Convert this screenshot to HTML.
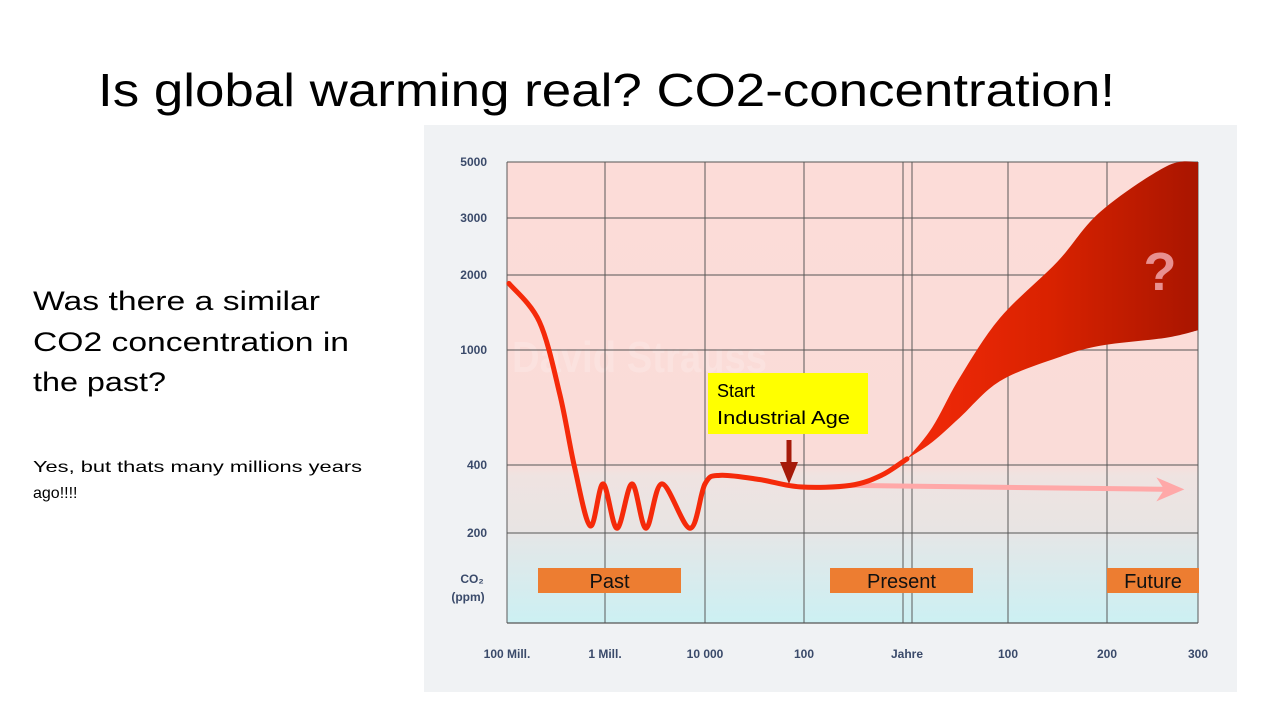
<!DOCTYPE html>
<html><head><meta charset="utf-8"><style>
html,body{margin:0;padding:0;background:#fff;}
svg{display:block;font-family:"Liberation Sans",sans-serif;}
</style></head><body>
<svg id="chart" width="1280" height="720" viewBox="0 0 1280 720" xmlns="http://www.w3.org/2000/svg">
<defs>
<linearGradient id="plotbg" x1="0" y1="162" x2="0" y2="623" gradientUnits="userSpaceOnUse">
<stop offset="0" stop-color="#fcdcd8"/>
<stop offset="0.65" stop-color="#fadcd8"/>
<stop offset="0.68" stop-color="#efe3e1"/>
<stop offset="0.80" stop-color="#e8e4e3"/>
<stop offset="0.82" stop-color="#e3e7e8"/>
<stop offset="1" stop-color="#ccf0f3"/>
</linearGradient>
<linearGradient id="band" x1="900" y1="0" x2="1200" y2="0" gradientUnits="userSpaceOnUse">
<stop offset="0" stop-color="#f42a0a"/>
<stop offset="0.5" stop-color="#d92200"/>
<stop offset="1" stop-color="#a81500"/>
</linearGradient>
</defs>
<text x="98" y="106" font-size="46" fill="#000" textLength="1017" lengthAdjust="spacingAndGlyphs">Is global warming real? CO2-concentration!</text>
<g font-size="27" fill="#000">
<text x="33" y="310" textLength="287" lengthAdjust="spacingAndGlyphs">Was there a similar</text>
<text x="33" y="351" textLength="316" lengthAdjust="spacingAndGlyphs">CO2 concentration in</text>
<text x="33" y="391" textLength="133" lengthAdjust="spacingAndGlyphs">the past?</text>
</g>
<g font-size="16" fill="#000">
<text x="33" y="472" textLength="329" lengthAdjust="spacingAndGlyphs">Yes, but thats many millions years</text>
<text x="33" y="498">ago!!!!</text>
</g>
<rect x="424" y="125" width="813" height="567" fill="#f0f2f4"/>
<rect x="507" y="162" width="691" height="461" fill="url(#plotbg)"/>
<text x="512" y="372" font-size="44" font-weight="bold" fill="#fff" fill-opacity="0.18" textLength="255" lengthAdjust="spacingAndGlyphs">David Strauss</text>
<g id="grid"></g>
<g id="series"></g>
<g id="labels"></g>
<g>
<rect x="708" y="373" width="160" height="61" fill="#ffff00"/>
<text x="717" y="397" font-size="18" fill="#000">Start</text>
<text x="717" y="424" font-size="18" fill="#000" textLength="133" lengthAdjust="spacingAndGlyphs">Industrial Age</text>
<line x1="789" y1="440" x2="789" y2="470" stroke="#a51a0a" stroke-width="5"/>
<polygon points="780,462 798,462 789,484" fill="#a51a0a"/>
</g>
<g font-size="20" fill="#111">
<rect x="538" y="568" width="143" height="25" fill="#ed7d31"/>
<text x="609.5" y="588" text-anchor="middle">Past</text>
<rect x="830" y="568" width="143" height="25" fill="#ed7d31"/>
<text x="901.5" y="588" text-anchor="middle">Present</text>
<rect x="1107" y="568" width="92" height="25" fill="#ed7d31"/>
<text x="1153" y="588" text-anchor="middle">Future</text>
</g>
</svg>
<script>
const yTicks = [5000, 3000, 2000, 1000, 400, 200];
const xTickLabels = ["100 Mill.", "1 Mill.", "10 000", "100", "Jahre", "100", "200", "300"];
const histX = [0.02,0.33,0.54,0.69,0.85,0.98,1.12,1.27,1.41,1.57,1.85,2.0,2.15,2.55,2.96,3.45,3.75,4.0];
const histPpm = [1850,1300,700,390,215,330,210,330,210,330,210,330,360,345,320,325,360,420];
const bandX = [4.0,4.25,4.52,4.92,5.5,5.93,6.65,7.0];
const bandUpper = [420,540,800,1344,2200,3170,4800,5000];
const bandLower = [420,480,582,780,940,1040,1120,1200];
const flatX = [3.45, 6.85];
const flatPpm = [325, 312];

const NS = "http://www.w3.org/2000/svg";
const yPix = [162, 218, 275, 350, 465, 533];
const xPix = [507, 605, 705, 804, 907, 1008, 1107, 1198];
function yScale(v){
  const lv = Math.log(v);
  for (let i=0;i<yTicks.length-1;i++){
    const a=Math.log(yTicks[i]), b=Math.log(yTicks[i+1]);
    if ((lv<=a && lv>=b) || i===yTicks.length-2){
      return yPix[i] + (a-lv)/(a-b)*(yPix[i+1]-yPix[i]);
    }
  }
}
function xScale(u){
  const i = Math.max(0, Math.min(xPix.length-2, Math.floor(u)));
  return xPix[i] + (u-i)*(xPix[i+1]-xPix[i]);
}
function mk(tag, attrs, parent){
  const e=document.createElementNS(NS, tag);
  for (const k in attrs) e.setAttribute(k, attrs[k]);
  parent.appendChild(e); return e;
}
function segs(pts){
  let d="";
  for (let i=0;i<pts.length-1;i++){
    const p0=pts[i-1]||pts[i], p1=pts[i], p2=pts[i+1], p3=pts[i+2]||p2;
    const c1x=p1[0]+(p2[0]-p0[0])/6, c1y=p1[1]+(p2[1]-p0[1])/6;
    const c2x=p2[0]-(p3[0]-p1[0])/6, c2y=p2[1]-(p3[1]-p1[1])/6;
    d+=" C"+c1x+","+c1y+" "+c2x+","+c2y+" "+p2[0]+","+p2[1];
  }
  return d;
}
function smooth(pts){ return "M"+pts[0][0]+","+pts[0][1]+segs(pts); }
const grid=document.getElementById('grid');
const labels=document.getElementById('labels');
const series=document.getElementById('series');
yTicks.forEach(v=>{
  const y=yScale(v);
  const l=mk('line',{x1:507,x2:1198,y1:y,y2:y,stroke:'#555',"stroke-width":1.2,"stroke-opacity":0.8},grid);
  
  
  const t=mk('text',{x:487,y:y+4,"text-anchor":"end","font-size":12,"font-weight":"bold",fill:"#3a4a6a"},labels);
  t.textContent=v;
  
  
});
xTickLabels.forEach((s,i)=>{
  const x=xScale(i);
  const xs = s==="Jahre" ? [903,912] : [x];
  xs.forEach(xx=>{
    const l=mk('line',{x1:xx,x2:xx,y1:162,y2:623,stroke:'#555',"stroke-width":1.2,"stroke-opacity":0.8},grid);
    
    
  });
  const t=mk('text',{x:x,y:658,"text-anchor":"middle","font-size":12,"font-weight":"bold",fill:"#3a4a6a"},labels);
  t.textContent=s;
  
  
});
mk('line',{x1:507,x2:1198,y1:623,y2:623,stroke:'#555',"stroke-width":1.2},grid);
const u1=mk('text',{x:472,y:583,"text-anchor":"middle","font-size":12,"font-weight":"bold",fill:"#3a4a6a"},labels);
u1.textContent="CO₂";


const u2=mk('text',{x:468,y:601,"text-anchor":"middle","font-size":12,"font-weight":"bold",fill:"#3a4a6a"},labels);
u2.textContent="(ppm)";



const up=bandX.map((u,i)=>[xScale(u),yScale(bandUpper[i])]);
const lo=bandX.map((u,i)=>[xScale(u),yScale(bandLower[i])]).reverse();
const bd=smooth(up)+" L"+lo[0][0]+","+lo[0][1]+segs(lo)+" Z";
const band=mk('path',{d:bd,fill:'url(#band)'},series);


const q=mk('text',{x:1160,y:290,"text-anchor":"middle","font-size":54,"font-weight":"bold",fill:"#e89090"},series);
q.textContent="?";


const fx1=xScale(flatX[0]), fy1=yScale(flatPpm[0]), fx2=xScale(flatX[1]), fy2=yScale(flatPpm[1]);
const fl=mk('line',{x1:fx1,y1:fy1,x2:fx2-14,y2:fy2,stroke:'#ffa8a8',"stroke-width":5},series);


const ah=mk('polygon',{points:(fx2-28)+","+(fy2-12)+" "+fx2+","+fy2+" "+(fx2-28)+","+(fy2+12)+" "+(fx2-20)+","+fy2,fill:'#ffa8a8'},series);


const hp=histX.map((u,i)=>[xScale(u),yScale(histPpm[i])]);
const hl=mk('path',{d:smooth(hp),fill:'none',stroke:'#f52a0a',"stroke-width":5,"stroke-linecap":"round","stroke-linejoin":"round"},series);


</script>
</body></html>
